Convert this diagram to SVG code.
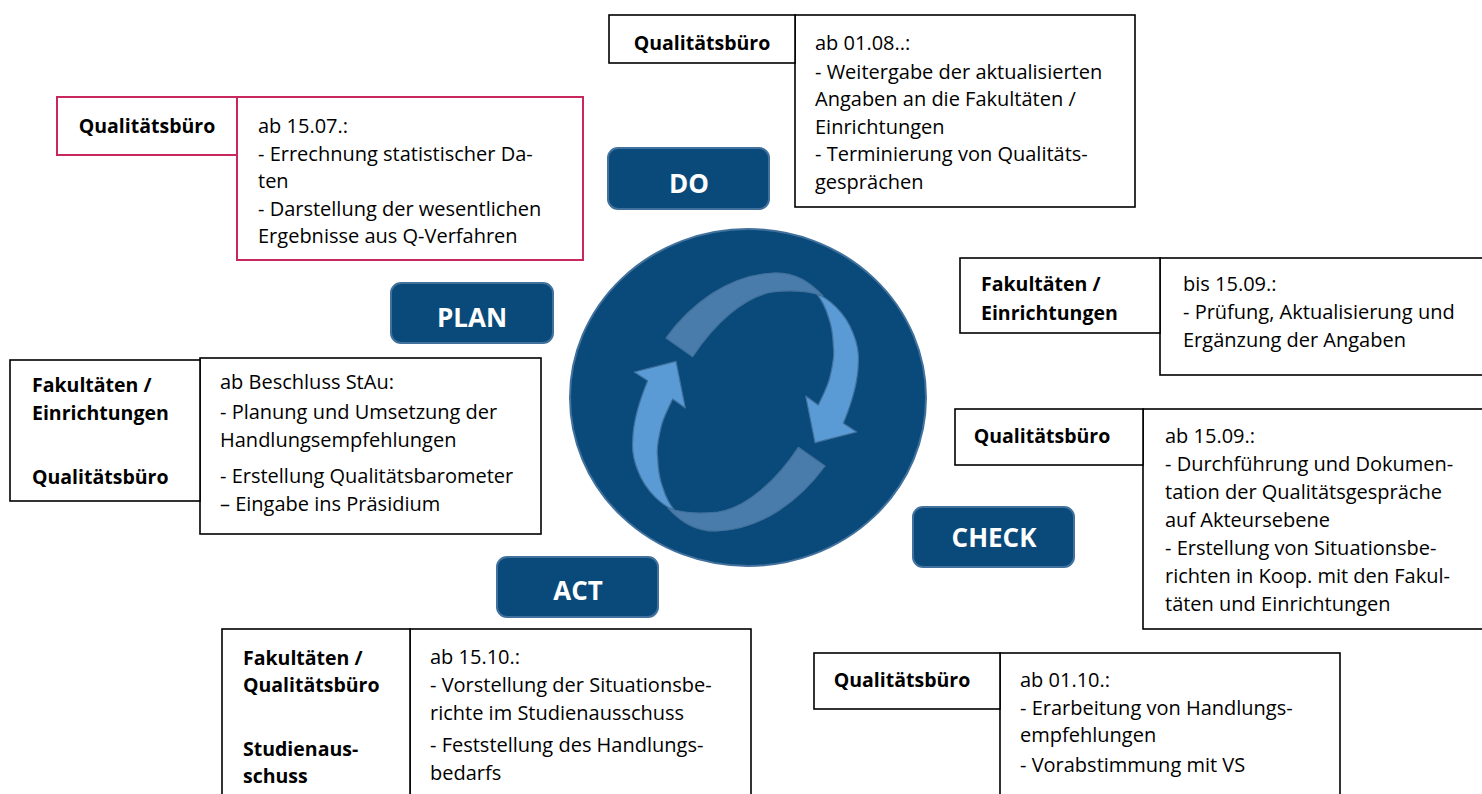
<svg xmlns="http://www.w3.org/2000/svg" width="1482" height="794" viewBox="0 0 1482 794">
  <style>
    .bg { fill: #ffffff; }
    .box { fill: #ffffff; stroke: #000000; stroke-width: 1.6; }
    .pink { fill: #ffffff; stroke: #c8285c; stroke-width: 2; }
    .lbl { font-family: "Open Sans", "Noto Sans", "DejaVu Sans", sans-serif; font-size: 19.5px; font-weight: 700; fill: #000000; }
    .mid { text-anchor: middle; }
    .txt { font-family: "Open Sans", "Noto Sans", "DejaVu Sans", sans-serif; font-size: 20px; fill: #000000; }
    .btn { fill: #0a4a7a; stroke: #41719c; stroke-width: 2; }
    .btntxt { font-family: "Open Sans", "Noto Sans", "DejaVu Sans", sans-serif; font-size: 26px; font-weight: 700; fill: #ffffff; text-anchor: middle; }
    .disc { fill: #0a4a7a; stroke: #41719c; stroke-width: 2; }
    .face { fill: #5b9bd5; stroke: #41719c; stroke-width: 1.2; stroke-linejoin: round; }
    .band { fill: #4a7cab; stroke: #41719c; stroke-width: 1.2; stroke-linejoin: round; }
  </style>
  <defs>
    <!-- one curved cycle arrow; the second is the same shape turned half round -->
    <g id="cycle-arrow">
      <path class="face" d="M816.7,294 C828,298 845,312 853,333 C858,345 859,355 858.3,363.3 C858,380 853,400 843.3,423.3 L856.7,432 L815,442.7 L805.7,396 L818.3,405 C823,395 828,386 830,376.7 C834,360 834,350 833.3,346.7 C833,333 831,324 828.3,316.7 C825,306 821,299 816.7,294 Z"/>
      <path class="band" d="M666,338 C690,305 728,275 773,273 C795,272 810,282 823,296 L816.7,294 C805,291 790,290 773,292 C745,296 714,324 692.7,356.7 Z"/>
    </g>
  </defs>

  <rect class="bg" x="0" y="0" width="1482" height="794"/>

  <!-- centre disc with the two cycle arrows -->
  <g id="cycle">
    <ellipse class="disc" cx="748" cy="397.5" rx="178" ry="168.5"/>
    <use href="#cycle-arrow"/>
    <use href="#cycle-arrow" transform="rotate(180 745.5 402)"/>
  </g>

  <!-- phase buttons -->
  <g id="do">
    <rect class="btn" x="608" y="148" width="161" height="61" rx="10"/>
    <text class="btntxt" x="689" y="193">DO</text>
  </g>
  <g id="plan">
    <rect class="btn" x="391" y="283" width="162" height="60" rx="10"/>
    <text class="btntxt" x="472" y="327">PLAN</text>
  </g>
  <g id="check">
    <rect class="btn" x="913" y="507" width="161" height="60" rx="10"/>
    <text class="btntxt" x="994" y="547">CHECK</text>
  </g>
  <g id="act">
    <rect class="btn" x="497" y="557" width="161" height="60" rx="10"/>
    <text class="btntxt" x="578" y="600">ACT</text>
  </g>

  <!-- ab 15.07. -->
  <g id="task-0715">
    <rect class="pink" x="237" y="97" width="346" height="163"/>
    <rect class="pink" x="57" y="97" width="180" height="58"/>
    <text class="lbl mid" x="147" y="133">Qualitätsbüro</text>
    <text class="txt" x="258" y="133">ab 15.07.:</text>
    <text class="txt" x="258" y="161">- Errechnung statistischer Da-</text>
    <text class="txt" x="258" y="188">ten</text>
    <text class="txt" x="258" y="216">- Darstellung der wesentlichen</text>
    <text class="txt" x="258" y="243">Ergebnisse aus Q-Verfahren</text>
  </g>

  <!-- ab 01.08. -->
  <g id="task-0108">
    <rect class="box" x="795" y="15" width="340" height="192"/>
    <rect class="box" x="609" y="15" width="186" height="48"/>
    <text class="lbl mid" x="702" y="50">Qualitätsbüro</text>
    <text class="txt" x="815" y="50">ab 01.08..:</text>
    <text class="txt" x="815" y="79">- Weitergabe der aktualisierten</text>
    <text class="txt" x="815" y="106">Angaben an die Fakultäten /</text>
    <text class="txt" x="815" y="134">Einrichtungen</text>
    <text class="txt" x="815" y="161">- Terminierung von Qualitäts-</text>
    <text class="txt" x="815" y="189">gesprächen</text>
  </g>

  <!-- bis 15.09. -->
  <g id="task-bis-1509">
    <rect class="box" x="1160" y="258" width="330" height="117"/>
    <rect class="box" x="960" y="258" width="200" height="75"/>
    <text class="lbl" x="981" y="291">Fakultäten /</text>
    <text class="lbl" x="981" y="320">Einrichtungen</text>
    <text class="txt" x="1183" y="291">bis 15.09.:</text>
    <text class="txt" x="1183" y="319">- Prüfung, Aktualisierung und</text>
    <text class="txt" x="1183" y="347">Ergänzung der Angaben</text>
  </g>

  <!-- ab 15.09. -->
  <g id="task-ab-1509">
    <rect class="box" x="1143" y="409" width="347" height="220"/>
    <rect class="box" x="955" y="409" width="188" height="56"/>
    <text class="lbl mid" x="1042" y="443">Qualitätsbüro</text>
    <text class="txt" x="1165" y="443">ab 15.09.:</text>
    <text class="txt" x="1165" y="471">- Durchführung und Dokumen-</text>
    <text class="txt" x="1165" y="499">tation der Qualitätsgespräche</text>
    <text class="txt" x="1165" y="527">auf Akteursebene</text>
    <text class="txt" x="1165" y="555">- Erstellung von Situationsbe-</text>
    <text class="txt" x="1165" y="583">richten in Koop. mit den Fakul-</text>
    <text class="txt" x="1165" y="611">täten und Einrichtungen</text>
  </g>

  <!-- ab 01.10. -->
  <g id="task-0110">
    <rect class="box" x="1000" y="653" width="340" height="150"/>
    <rect class="box" x="814" y="653" width="186" height="56"/>
    <text class="lbl mid" x="902" y="687">Qualitätsbüro</text>
    <text class="txt" x="1020" y="687">ab 01.10.:</text>
    <text class="txt" x="1020" y="715">- Erarbeitung von Handlungs-</text>
    <text class="txt" x="1020" y="742">empfehlungen</text>
    <text class="txt" x="1020" y="772">- Vorabstimmung mit VS</text>
  </g>

  <!-- ab 15.10. -->
  <g id="task-1510">
    <rect class="box" x="410" y="629" width="341" height="175"/>
    <rect class="box" x="222" y="629" width="188" height="175"/>
    <text class="lbl" x="243" y="665">Fakultäten /</text>
    <text class="lbl" x="243" y="692">Qualitätsbüro</text>
    <text class="lbl" x="243" y="756">Studienaus-</text>
    <text class="lbl" x="243" y="783">schuss</text>
    <text class="txt" x="430" y="664">ab 15.10.:</text>
    <text class="txt" x="430" y="692">- Vorstellung der Situationsbe-</text>
    <text class="txt" x="430" y="720">richte im Studienausschuss</text>
    <text class="txt" x="430" y="752">- Feststellung des Handlungs-</text>
    <text class="txt" x="430" y="780">bedarfs</text>
  </g>

  <!-- ab Beschluss StAu -->
  <g id="task-stau">
    <rect class="box" x="200" y="358" width="341" height="176"/>
    <rect class="box" x="10" y="360" width="190" height="141"/>
    <text class="lbl" x="32" y="392">Fakultäten /</text>
    <text class="lbl" x="32" y="420">Einrichtungen</text>
    <text class="lbl" x="32" y="484">Qualitätsbüro</text>
    <text class="txt" x="220" y="389">ab Beschluss StAu:</text>
    <text class="txt" x="220" y="419">- Planung und Umsetzung der</text>
    <text class="txt" x="220" y="447">Handlungsempfehlungen</text>
    <text class="txt" x="220" y="483">- Erstellung Qualitätsbarometer</text>
    <text class="txt" x="220" y="511">– Eingabe ins Präsidium</text>
  </g>
</svg>
